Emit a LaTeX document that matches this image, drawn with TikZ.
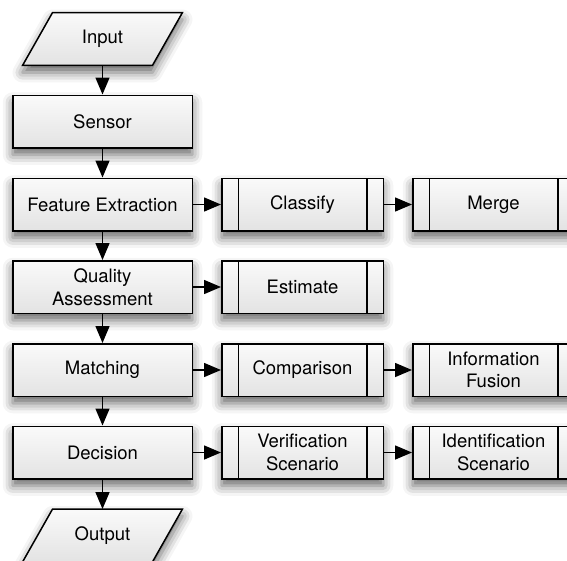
\documentclass[tikz,border=0pt]{standalone}
\usepackage{fontspec}
\setmainfont{TeX Gyre Heros}
\usetikzlibrary{arrows.meta,shadows.blur}
\tikzset{
  looks/.style={draw=black, line width=1.5pt, top color=white!98!black, bottom color=black!11,
    blur shadow={shadow xshift=0pt, shadow yshift=-7pt, shadow blur radius=10pt, shadow opacity=60}},
  txt/.style={font=\fontsize{18.5}{22.5}\selectfont, align=center, inner sep=0pt},
  procbox/.style={looks, txt, rectangle, minimum width=179.5pt, minimum height=52.5pt},
  subproc/.style={looks, txt, rectangle, minimum width=161.5pt, minimum height=52.5pt,
    path picture={
      \draw[line width=1.5pt] ([xshift=16.5pt]path picture bounding box.north west) -- ([xshift=16.5pt]path picture bounding box.south west);
      \draw[line width=1.5pt] ([xshift=-16.5pt]path picture bounding box.north east) -- ([xshift=-16.5pt]path picture bounding box.south east);
    }},
  iolabel/.style={txt, rectangle, minimum width=159.5pt, minimum height=52.5pt},
  arr/.style={draw=black, line width=1.5pt, -{Triangle[length=17pt,width=14pt]}}
}
\newcommand{\iopath}[1]{%
  \path[looks] ([xshift=30pt]#1.north west) -- (#1.north east) -- ([xshift=-30pt]#1.south east) -- (#1.south west) -- cycle;}
\begin{document}
\begin{tikzpicture}[x=1pt,y=-1pt]
\useasboundingbox (0,0) rectangle (567,560);
\node[iolabel] (input) at (102.5,39) {};
\iopath{input}
\node[txt] at (input) {Input};
\node[procbox] (sensor) at (102.5,121.5) {Sensor};
\node[procbox] (feat) at (102.5,204.5) {Feature Extraction};
\node[procbox] (qual) at (102.5,287) {Quality\\Assessment};
\node[procbox] (match) at (102.5,370) {Matching};
\node[procbox] (dec) at (102.5,452.5) {Decision};
\node[iolabel] (output) at (102.5,535.5) {};
\iopath{output}
\node[txt] at (output) {Output};

\node[subproc] (classify) at (302.5,204.5) {Classify};
\node[subproc] (merge) at (493.5,204.5) {Merge};
\node[subproc] (estimate) at (302.5,287) {Estimate};
\node[subproc] (comp) at (302.5,370) {Comparison};
\node[subproc] (fusion) at (493.5,370) {Information\\Fusion};
\node[subproc] (verif) at (302.5,452.5) {Verification\\Scenario};
\node[subproc] (ident) at (493.5,452.5) {Identification\\Scenario};

\draw[arr] (input) -- (sensor);
\draw[arr] (sensor) -- (feat);
\draw[arr] (feat) -- (qual);
\draw[arr] (qual) -- (match);
\draw[arr] (match) -- (dec);
\draw[arr] (dec) -- (output);
\draw[arr] (feat) -- (classify);
\draw[arr] (classify) -- (merge);
\draw[arr] (qual) -- (estimate);
\draw[arr] (match) -- (comp);
\draw[arr] (comp) -- (fusion);
\draw[arr] (dec) -- (verif);
\draw[arr] (verif) -- (ident);
\end{tikzpicture}
\end{document}
